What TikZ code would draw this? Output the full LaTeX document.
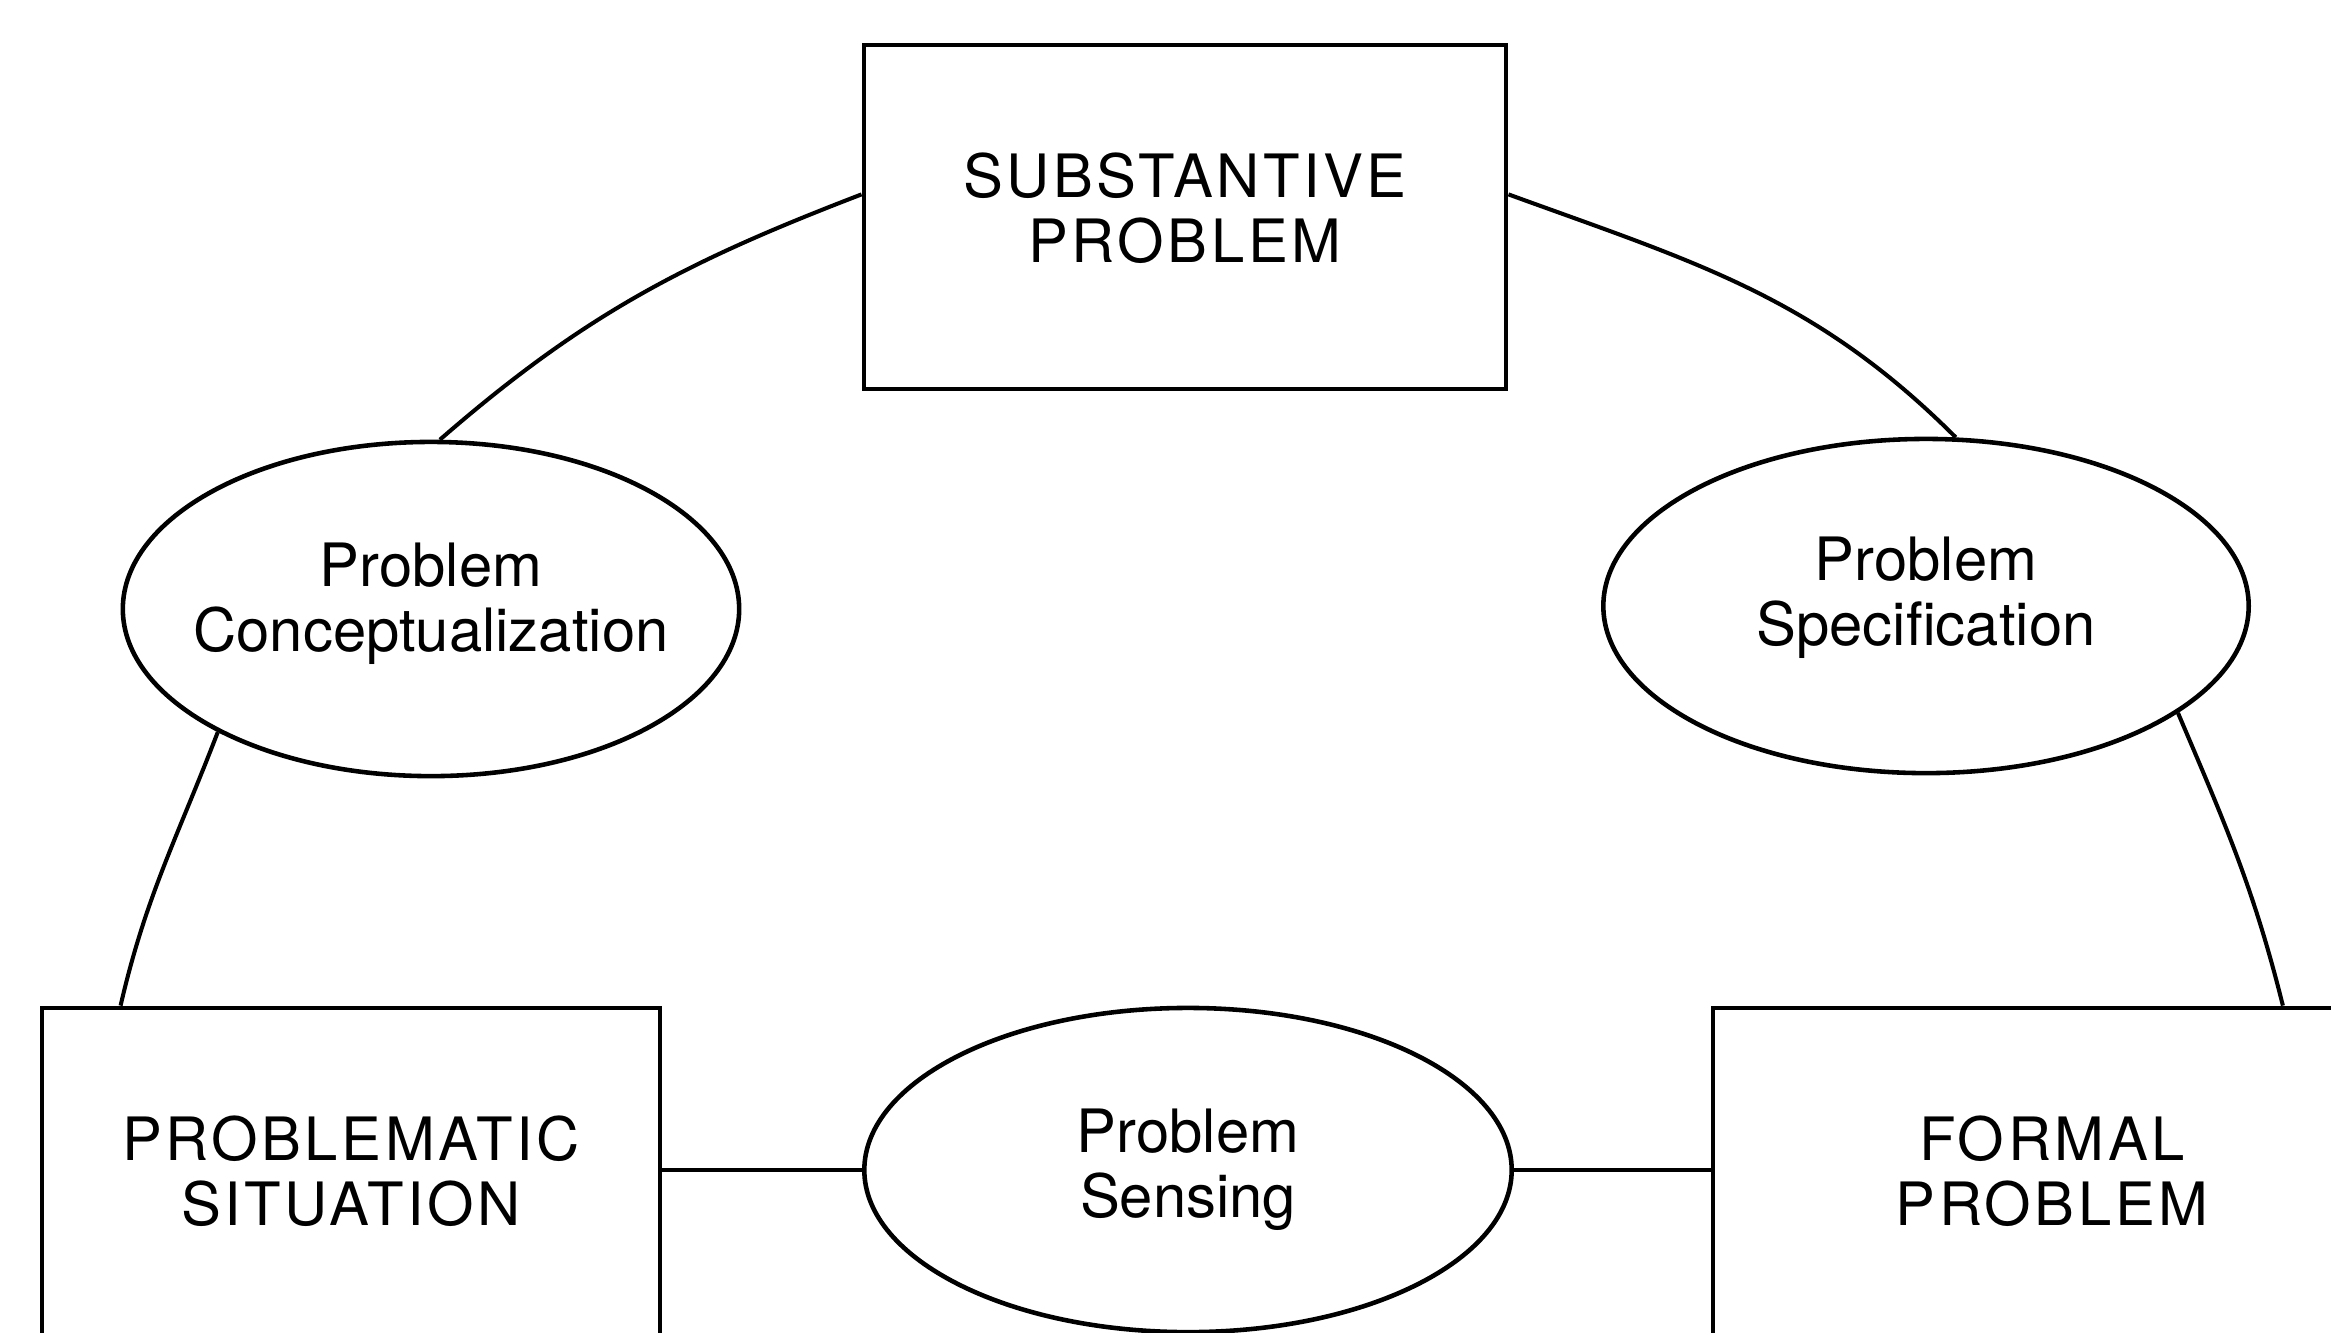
\documentclass[tikz,border=0pt]{standalone}
\usepackage{fontspec}
\setmainfont{TeX Gyre Heros}
\newfontfamily\capsfont[LetterSpace=6]{TeX Gyre Heros}
\usetikzlibrary{shapes.geometric}
\begin{document}
\begin{tikzpicture}[x=0.01cm,y=-0.01cm,
  txt/.style={align=center,font=\fontsize{17}{18.5}\selectfont,inner sep=0pt},
  captxt/.style={align=center,font=\fontsize{17}{18.5}\selectfont\capsfont,inner sep=0pt},
  box/.style={draw,line width=1.3pt,rectangle,inner sep=0pt},
  ell/.style={draw,line width=1.3pt,ellipse,inner sep=0pt},
  conn/.style={draw,line width=1.15pt}]
\useasboundingbox (0,0) rectangle (2331,1332);
\fill[white] (0,0) rectangle (2331,1332);
\clip (0,0) rectangle (2331,1332);
% nodes
\node[box,minimum width=6.42cm,minimum height=3.44cm,
  label={[captxt,yshift=0.09cm]center:SUBSTANTIVE\\PROBLEM}] (sp) at (1185,217) {};
\node[ell,minimum width=6.16cm,minimum height=3.34cm,
  label={[txt,yshift=0.05cm]center:Problem\\Conceptualization}] (pc) at (431,609) {};
\node[ell,minimum width=6.45cm,minimum height=3.34cm,
  label={[txt,yshift=0.08cm]center:Problem\\Specification}] (pr) at (1926,606) {};
\node[box,minimum width=6.18cm,minimum height=3.84cm,
  label={[captxt,yshift=0.29cm]center:PROBLEMATIC\\SITUATION}] (ps) at (351,1200) {};
\node[ell,minimum width=6.47cm,minimum height=3.24cm,
  label={[txt]center:Problem\\Sensing}] (pn) at (1188,1170) {};
\node[box,minimum width=6.78cm,minimum height=3.84cm,
  label={[captxt,yshift=0.29cm]center:FORMAL\\PROBLEM}] (pf) at (2052,1200) {};
% connectors
\draw[conn] (sp.176) to[out=201,in=41] (pc.87);
\draw[conn] (pc.210) to[out=249,in=77] ([xshift=0.81cm]ps.north west);
\draw[conn] (sp.4) to[out=-20,in=135] (pr.80);
\draw[conn] (pr.-23) to[out=-67,in=104] ([xshift=5.72cm]pf.north west);
\draw[conn] (pn.west -| ps.east) -- (pn.west);
\draw[conn] (pn.east) -- (pn.east -| pf.west);
\end{tikzpicture}
\end{document}
